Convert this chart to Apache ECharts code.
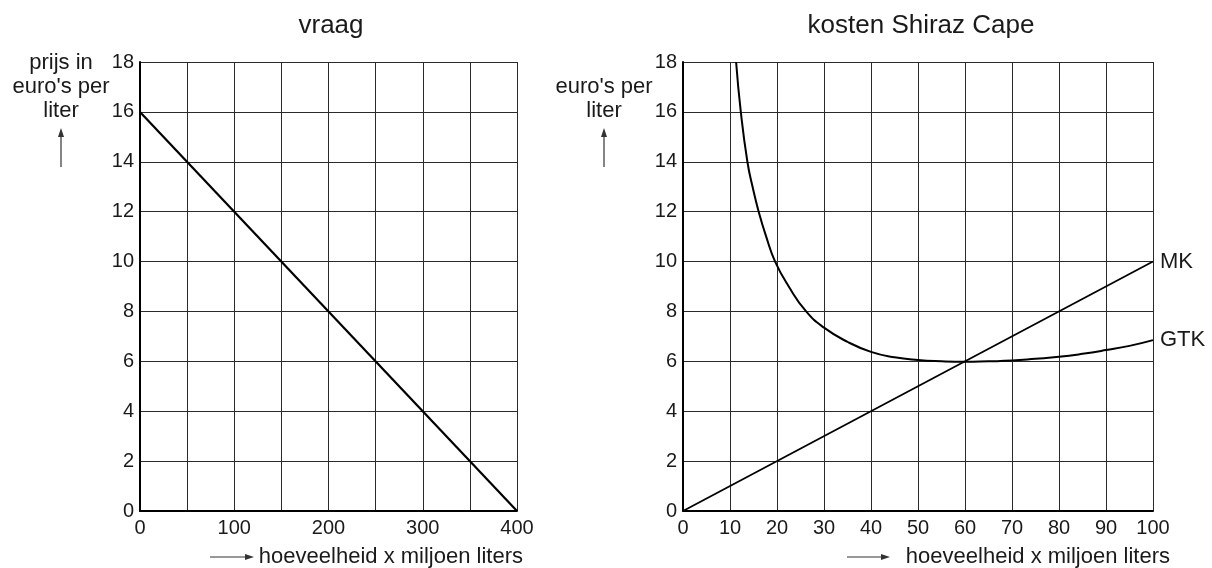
<!DOCTYPE html>
<html><head><meta charset="utf-8">
<script src="https://cdn.jsdelivr.net/npm/echarts@6/dist/echarts.min.js"></script>
<style>html,body{margin:0;padding:0;background:#fff}#c{width:1212px;height:568px}</style>
</head><body><div id="c"></div>
<script>
// Left chart: vraag (demand)
const demandX = [0, 400];
const demandY = [16, 0];
// Right chart: kosten Shiraz Cape
const mkX = [0, 100];
const mkY = [0, 10];
const gtkX = [11.3, 12.3, 13.7, 14.8, 16.1, 17.7, 19.6, 22.5, 26.2, 30, 35, 40, 45, 50, 55, 60, 65, 70, 75, 80, 85, 90, 95, 100];
const gtkY = [18, 16, 14, 13, 12, 11, 10, 9, 8, 7.35, 6.78, 6.38, 6.16, 6.05, 6.0, 5.98, 6.0, 6.03, 6.1, 6.18, 6.3, 6.45, 6.62, 6.85];
const titles = ['vraag', 'kosten Shiraz Cape'];
const xName = 'hoeveelheid x miljoen liters';
const yNameLeft = ['prijs in', "euro's per", 'liter'];
const yNameRight = ["euro's per", 'liter'];

const F = "'Liberation Sans', Arial, sans-serif";
const TXT = '#1a1a1a';
const GRID = '#2a2a2a';

function pairs(xs, ys) { return xs.map((x, i) => [x, ys[i]]); }

function xAxis(gi, max, interval, labelStep) {
  return {
    type: 'value', gridIndex: gi, min: 0, max: max, interval: interval,
    axisLine: { show: true, onZero: false, lineStyle: { color: '#000', width: 2 } },
    axisTick: { show: false },
    splitLine: { show: true, lineStyle: { color: GRID, width: 1 } },
    axisLabel: { color: TXT, fontFamily: F, fontSize: 20, margin: 7,
      formatter: v => (v % labelStep === 0 ? String(v) : '') }
  };
}
function yAxis(gi) {
  return {
    type: 'value', gridIndex: gi, min: 0, max: 18, interval: 2,
    axisLine: { show: true, onZero: false, lineStyle: { color: '#000', width: 2 } },
    axisTick: { show: false },
    splitLine: { show: true, lineStyle: { color: GRID, width: 1 } },
    axisLabel: { color: TXT, fontFamily: F, fontSize: 20, margin: 6 }
  };
}
function arrowUp(x, y1, y2) {
  return [
    { type: 'line', shape: { x1: x, y1: y1, x2: x, y2: y2 + 6 }, style: { stroke: '#333', lineWidth: 1.2 } },
    { type: 'polygon', shape: { points: [[x, y2], [x - 3, y2 + 9], [x + 3, y2 + 9]] }, style: { fill: '#333' } }
  ];
}
function arrowRight(x1, x2, y) {
  return [
    { type: 'line', shape: { x1: x1, y1: y, x2: x2 - 6, y2: y }, style: { stroke: '#333', lineWidth: 1.2 } },
    { type: 'polygon', shape: { points: [[x2, y], [x2 - 9, y - 3], [x2 - 9, y + 3]] }, style: { fill: '#333' } }
  ];
}
function txt(x, y, s, align) {
  return { type: 'text', x: x, y: y, style: { text: s, fill: TXT, font: '22px ' + F, textAlign: align || 'center', textVerticalAlign: 'middle' } };
}

const graphics = [];
yNameLeft.forEach((s, i) => graphics.push(txt(61, 63 + i * 24, s)));
yNameRight.forEach((s, i) => graphics.push(txt(604, 87 + i * 24, s)));
graphics.push(...arrowUp(61, 167, 128));
graphics.push(...arrowUp(604, 167, 128));
graphics.push(...arrowRight(210, 254, 557));
graphics.push(txt(523, 557, xName, 'right'));
graphics.push(...arrowRight(847, 890, 557));
graphics.push(txt(1170, 557, xName, 'right'));

const chart = echarts.init(document.getElementById('c'), null, { renderer: 'canvas' });
chart.setOption({
  animation: false,
  backgroundColor: '#fff',
  title: [
    { text: titles[0], left: 326, top: 8, textAlign: 'center', textStyle: { fontFamily: F, fontSize: 26, fontWeight: 'normal', color: TXT } },
    { text: titles[1], left: 916, top: 8, textAlign: 'center', textStyle: { fontFamily: F, fontSize: 26, fontWeight: 'normal', color: TXT } }
  ],
  grid: [
    { left: 140, right: 1212 - 517, top: 62, bottom: 568 - 511 },
    { left: 683, right: 1212 - 1153, top: 62, bottom: 568 - 511 }
  ],
  xAxis: [xAxis(0, 400, 50, 100), xAxis(1, 100, 10, 10)],
  yAxis: [yAxis(0), yAxis(1)],
  graphic: graphics,
  series: [
    { name: 'vraag', type: 'line', xAxisIndex: 0, yAxisIndex: 0, data: pairs(demandX, demandY), symbol: 'none',
      lineStyle: { color: '#000', width: 2.2 } },
    { name: 'MK', type: 'line', xAxisIndex: 1, yAxisIndex: 1, data: pairs(mkX, mkY), symbol: 'none',
      lineStyle: { color: '#000', width: 1.8 },
      endLabel: { show: true, formatter: 'MK', color: TXT, fontFamily: F, fontSize: 22, distance: 7 } },
    { name: 'GTK', type: 'line', xAxisIndex: 1, yAxisIndex: 1, data: pairs(gtkX, gtkY), symbol: 'none', smooth: 0.5,
      lineStyle: { color: '#000', width: 2 },
      endLabel: { show: true, formatter: 'GTK', color: TXT, fontFamily: F, fontSize: 22, distance: 7 } }
  ]
});
</script></body></html>
